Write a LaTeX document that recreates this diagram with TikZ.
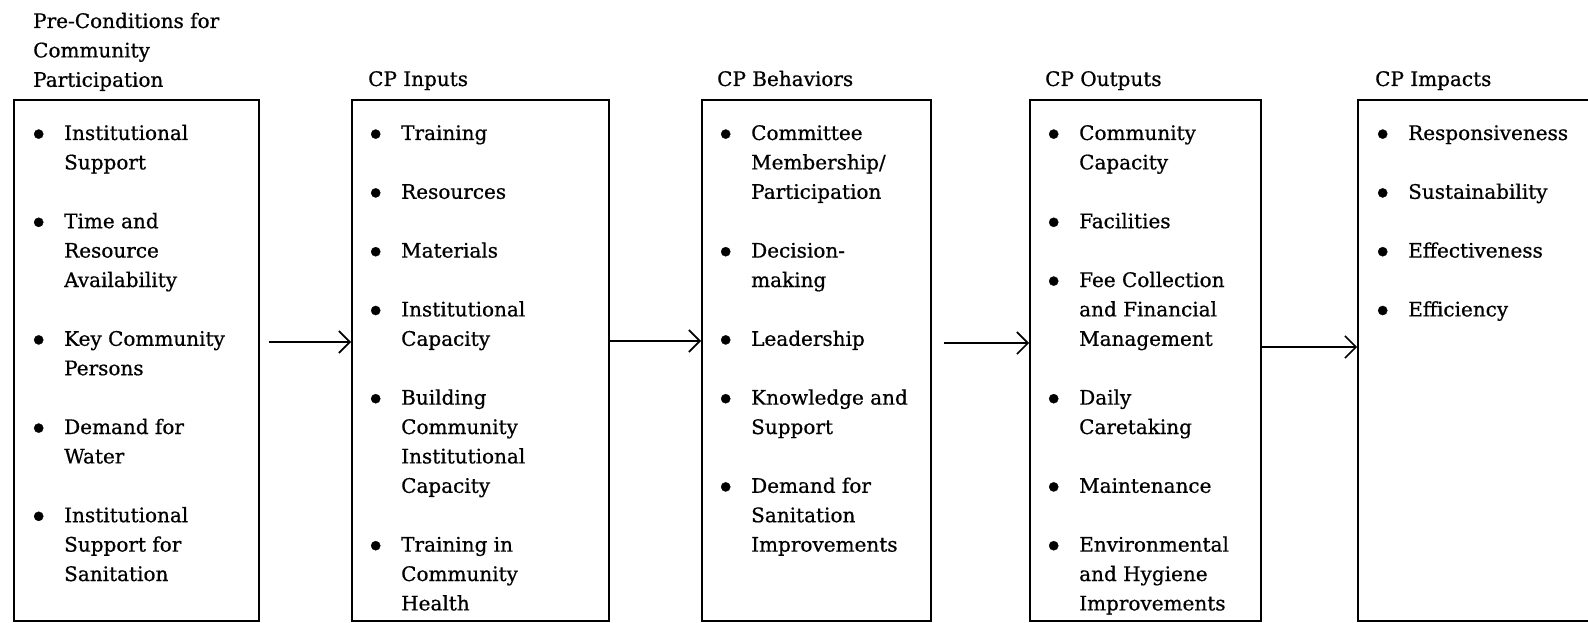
\documentclass[tikz,border=0pt]{standalone}
\usepackage{fontspec}
\setmainfont{DejaVu Serif}[FakeBold=0.7]
\usetikzlibrary{arrows.meta,calc}
% bullet hung 25.5bp to the left of the item text
\newcommand\bu{\makebox[0pt][r]{\makebox[0pt]{\raisebox{-0.3em}{\scalebox{1.6}{\textbullet}}}\hspace{25.5bp}}}
\begin{document}
\begin{tikzpicture}[x=1bp,y=-1bp,
  panel/.style={draw, line width=1.6bp, anchor=north west, minimum height=521bp, inner sep=0pt},
  head/.style={anchor=base west, inner sep=0pt, font=\fontsize{20bp}{29.4bp}\selectfont},
  items/.style={anchor=base west, inner sep=0pt, font=\fontsize{20bp}{29.4bp}\selectfont},
  flow/.style={line width=1.7bp, -{Straight Barb[length=11bp,width=22bp,line width=1.6bp]}}]
\clip (0,0) rectangle (1588,623);

% the five stages
\node[panel, minimum width=245bp] (b1) at (13,99) {};
\node[panel, minimum width=257bp] (b2) at (351,99) {};
\node[panel, minimum width=229bp] (b3) at (701,99) {};
\node[panel, minimum width=231bp] (b4) at (1029,99) {};
\node[panel, minimum width=250bp] (b5) at (1357,99) {};

% stage titles
\node[head] (h1) at (33,28) {\begin{tabular}[t]{@{}l@{}}Pre-Conditions for\\Community\\Participation\end{tabular}};
\node[head] (h2) at (368,86) {CP Inputs};
\node[head] (h3) at (717,86) {CP Behaviors};
\node[head] (h4) at (1045,86) {CP Outputs};
\node[head] (h5) at (1375,86) {CP Impacts};

% stage contents
\node[items] (t1) at (64,140) {\begin{tabular}[t]{@{}l@{}}
\bu Institutional\\ Support\\ \\
\bu Time and\\ Resource\\ Availability\\ \\
\bu Key Community\\ Persons\\ \\
\bu Demand for\\ Water\\ \\
\bu Institutional\\ Support for\\ Sanitation
\end{tabular}};
\node[items] (t2) at (401,140) {\begin{tabular}[t]{@{}l@{}}
\bu Training\\ \\
\bu Resources\\ \\
\bu Materials\\ \\
\bu Institutional\\ Capacity\\ \\
\bu Building\\ Community\\ Institutional\\ Capacity\\ \\
\bu Training in\\ Community\\ Health
\end{tabular}};
\node[items] (t3) at (751,140) {\begin{tabular}[t]{@{}l@{}}
\bu Committee\\ Membership/\\ Participation\\ \\
\bu Decision-\\ making\\ \\
\bu Leadership\\ \\
\bu Knowledge and\\ Support\\ \\
\bu Demand for\\ Sanitation\\ Improvements
\end{tabular}};
\node[items] (t4) at (1079,140) {\begin{tabular}[t]{@{}l@{}}
\bu Community\\ Capacity\\ \\
\bu Facilities\\ \\
\bu Fee Collection\\ and Financial\\ Management\\ \\
\bu Daily\\ Caretaking\\ \\
\bu Maintenance\\ \\
\bu Environmental\\ and Hygiene\\ Improvements
\end{tabular}};
\node[items] (t5) at (1408,140) {\begin{tabular}[t]{@{}l@{}}
\bu Responsiveness\\ \\
\bu Sustainability\\ \\
\bu Effectiveness\\ \\
\bu Efficiency
\end{tabular}};

% connectors between stages
\coordinate (y1) at (0,342);
\coordinate (y2) at (0,341);
\coordinate (y3) at (0,343);
\coordinate (y4) at (0,347);
\draw[flow] ($(b1.east |- y1)+(9,0)$) -- (b2.west |- y1);
\draw[flow] (b2.east |- y2) -- (b3.west |- y2);
\draw[flow] ($(b3.east |- y3)+(12,0)$) -- (b4.west |- y3);
\draw[flow] (b4.east |- y4) -- (b5.west |- y4);
\end{tikzpicture}
\end{document}
